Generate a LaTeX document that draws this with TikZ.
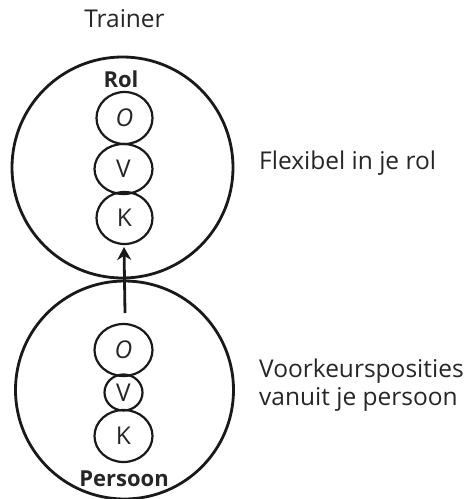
\documentclass[tikz,border=0pt]{standalone}
\usepackage{fontspec}
\setmainfont{Open Sans}
\usetikzlibrary{arrows.meta,shapes.geometric}
\begin{document}
\begin{tikzpicture}[x=1pt,y=-1pt,
  bigc/.style={draw=black!90, line width=2.8pt, circle, minimum size=#1, inner sep=0pt},
  smallc/.style={draw=black!90, line width=2.2pt, ellipse, inner sep=0pt},
  lbl/.style={font=\fontsize{24.5}{29}\selectfont, text=black!85},
  blbl/.style={font=\bfseries\fontsize{22}{26}\selectfont, text=black!85}]
\useasboundingbox (0,0) rectangle (466,499);
\node[bigc=221pt] (top) at (122.5,167.5) {};
\node[bigc=218pt] (bot) at (124.5,390) {};
\node[blbl, anchor=base] (rol) at (121,87) {Rol};
\node[smallc, minimum width=56pt, minimum height=52pt, lbl] (o1) at (124.5,118) {\itshape O};
\node[smallc, minimum width=58pt, minimum height=50pt, lbl] (v1) at (123.5,169) {V};
\node[smallc, minimum width=56pt, minimum height=52pt, lbl] (k1) at (124.5,218) {K};
\node[smallc, minimum width=58pt, minimum height=52pt, lbl] (o2) at (123.5,350) {\itshape O};
\node[smallc, minimum width=38pt, minimum height=36pt, lbl] (v2) at (123.5,392.5) {V};
\node[smallc, minimum width=58pt, minimum height=52pt, lbl] (k2) at (123.5,436) {K};
\node[blbl, anchor=base] (persoon) at (124,486) {Persoon};
\node[lbl, anchor=base] (trainer) at (124.5,27) {Trainer};
\node[lbl, anchor=base west, inner sep=0pt] (flex) at (259,169) {Flexibel in je rol};
\node[lbl, anchor=base west, inner sep=0pt] (voor1) at (259,377) {Voorkeursposities};
\node[lbl, anchor=base west, inner sep=0pt] (voor2) at (259,405) {vanuit je persoon};
\coordinate (as) at (125,313);
\coordinate (ae) at (124,247);
\draw[line width=2.8pt, draw=black!90, -{Stealth[length=13pt,width=14pt]}] (as) -- (ae);
\end{tikzpicture}
\end{document}
